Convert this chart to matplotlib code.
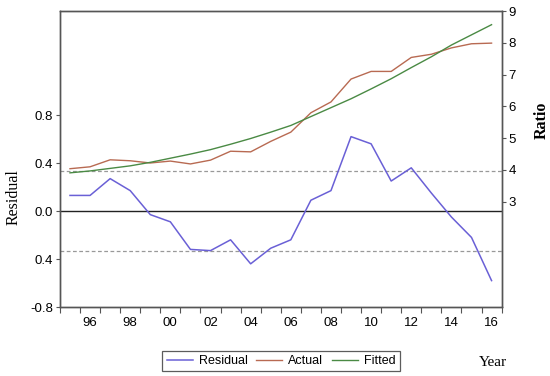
import matplotlib
matplotlib.use("Agg")
import matplotlib.pyplot as plt

# values (annual, 1995-2016)
years = list(range(1995, 2017))
residual = [0.13, 0.13, 0.27, 0.17, -0.03, -0.09, -0.32, -0.33, -0.24, -0.44, -0.31,
            -0.24, 0.09, 0.17, 0.62, 0.56, 0.25, 0.36, 0.15, -0.05, -0.22, -0.58]
actual = [4.04, 4.10, 4.32, 4.29, 4.22, 4.28, 4.19, 4.31, 4.59, 4.57, 4.90,
          5.19, 5.80, 6.14, 6.86, 7.10, 7.10, 7.54, 7.64, 7.84, 7.97, 7.99]
fitted = [3.91, 3.97, 4.05, 4.13, 4.24, 4.37, 4.50, 4.64, 4.81, 4.99, 5.19,
          5.40, 5.68, 5.96, 6.24, 6.55, 6.87, 7.22, 7.56, 7.93, 8.25, 8.57]
std_err = 0.335

left_ticks = [-0.8, -0.4, 0.0, 0.4, 0.8]
left_labels = ["-0.8", "0.4", "0.0", "0.4", "0.8"]
right_ticks = [3, 4, 5, 6, 7, 8, 9]
year_labels = [2*i + 1996 for i in range(11)]

plt.rcParams["font.family"] = "Liberation Sans"
plt.rcParams["font.size"] = 9.5

fig = plt.figure(figsize=(5.5, 3.76), dpi=100)
ax = fig.add_axes([0.109, 0.1835, 0.803, 0.7872])
ax2 = ax.twinx()

blue = "#6a60d6"
red = "#b86a52"
green = "#4a8a44"
spine_col = "#555555"

# residual part (left scale)
ax.axhline(0, color="#222222", lw=1.0)
ax.axhline(std_err, color="#999999", lw=0.9, ls=(0, (3, 2)))
ax.axhline(-std_err, color="#999999", lw=0.9, ls=(0, (3, 2)))
l1, = ax.plot(years, residual, color=blue, lw=1.1, label="Residual")

# actual and fitted (right scale)
l2, = ax2.plot(years, actual, color=red, lw=1.0, label="Actual")
l3, = ax2.plot(years, fitted, color=green, lw=1.0, label="Fitted")

ax.set_xlim(1994.5, 2016.5)
ax.set_ylim(-0.8, 1.667)
ax2.set_ylim(-0.31, 9.0)

ax.set_yticks(left_ticks)
ax.set_yticklabels(left_labels)
ax2.set_yticks(right_ticks)

# year boundaries get the ticks, even years get the labels
ax.set_xticks([y - 0.5 for y in years] + [2016.5])
ax.set_xticklabels([])
ax.set_xticks(year_labels, minor=True)
ax.set_xticklabels([str(y)[2:] for y in year_labels], minor=True)
ax.tick_params(axis="x", which="minor", length=0, pad=7)
ax.tick_params(axis="x", which="major", length=4, width=0.8, color=spine_col)
ax.tick_params(axis="y", length=3, width=0.8, color=spine_col, pad=2)
ax2.tick_params(axis="y", length=3, width=0.8, color=spine_col, pad=2)

for a in (ax, ax2):
    for s in a.spines.values():
        s.set_color(spine_col)
        s.set_linewidth(1.0)

fig.text(0.025, 0.475, "Residual", rotation=90, ha="center", va="center",
         family="Liberation Serif", fontsize=11.5)
fig.text(0.985, 0.68, "Ratio", rotation=90, ha="center", va="center",
         family="Liberation Serif", fontsize=11.5, fontweight="bold")
fig.text(0.897, 0.037, "Year", ha="center", va="center",
         family="Liberation Serif", fontsize=11)

leg = fig.legend(handles=[l1, l2, l3], loc="center", bbox_to_anchor=(0.511, 0.04),
                 ncol=3, frameon=True, fancybox=False, fontsize=9,
                 handlelength=2.1, columnspacing=0.7, handletextpad=0.45,
                 borderpad=0.35)
leg.get_frame().set_edgecolor("#333333")
leg.get_frame().set_linewidth(0.9)

fig.savefig("out.png", dpi=100)
